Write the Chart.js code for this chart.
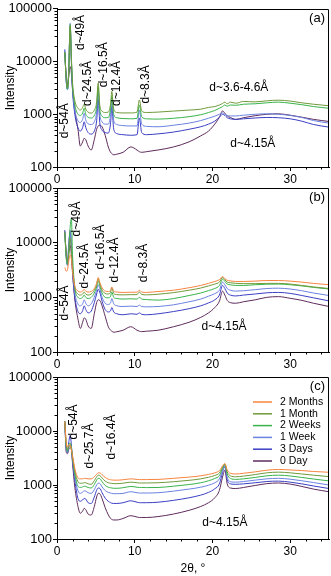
<!DOCTYPE html>
<html><head><meta charset="utf-8">
<script src="https://cdn.jsdelivr.net/npm/chart.js@4.4.0/dist/chart.umd.min.js"></script>
<style>
html,body{margin:0;padding:0;background:#fff;width:331px;height:576px;overflow:hidden;}
canvas{position:absolute;left:0;display:block;}
</style></head><body>
<canvas id="ca" width="331" height="195" style="top:0px"></canvas>
<canvas id="cb" width="331" height="195" style="top:178px"></canvas>
<canvas id="cc" width="331" height="210" style="top:366px"></canvas>
<script>
// ---- data ----
const X = [1.0, 1.2, 1.35, 1.5, 1.7, 1.85, 2.0, 2.3, 2.7, 3.0, 3.3, 3.5, 3.7, 4.0, 4.4, 4.8, 5.1, 5.3, 5.5, 5.8, 6.2, 6.6, 6.9, 7.05, 7.3, 7.7, 8.5, 9.5, 10.3, 10.6, 10.9, 11.5, 13, 15, 17, 18.5, 19.5, 20.3, 20.9, 21.3, 21.6, 21.9, 22.3, 23, 24, 25.5, 27, 28.5, 30, 31.5, 33, 35];
const X_TICK_LABELS = [0, 10, 20, 30];
const Y_TICK_LABELS = [100, 1000, 10000, 100000];
const SERIES_NAMES = ['2 Months', '1 Month', '2 Weeks', '1 Week', '3 Days', '0 Day'];

// panel (a)
const A_1M  = [15000,4500,3200,6000,48000,12000,4000,1800,1300,1200,1350,1550,1250,1100,1050,1200,1700,3900,1500,1150,1080,1100,1600,2700,1250,1080,1060,1060,1100,1870,1150,1080,1100,1150,1200,1250,1350,1400,1500,1600,1700,1580,1700,1620,1750,1720,1800,1850,1780,1650,1550,1450];
const A_2W  = [15000,4200,3000,5500,50000,11000,3500,1500,1000,950,1050,1300,1000,880,850,950,1400,3300,1250,920,860,870,1300,2200,980,860,830,820,840,1500,900,820,810,840,900,980,1080,1180,1300,1400,1500,1420,1500,1480,1550,1580,1650,1700,1620,1520,1400,1300];
const A_1WK = [16000,4000,2900,6000,53000,11000,3200,1200,750,700,800,1050,780,660,640,720,1100,2600,1000,720,650,650,1000,1850,760,640,610,600,600,1200,650,590,580,620,680,760,840,920,1000,1060,1000,940,930,930,960,1000,1020,1000,950,870,760,680];
const A_3D  = [17000,4000,3000,6500,45000,10000,2800,1000,550,480,560,720,560,450,420,480,750,1900,700,500,450,440,700,1400,520,430,410,400,410,850,450,410,425,460,520,580,650,740,880,1000,950,860,820,800,820,850,870,860,820,740,640,570];
const A_0D  = [15000,5000,3500,5000,8000,6000,3000,1150,520,250,300,350,330,250,210,330,520,600,620,580,400,240,190,180,170,175,190,240,210,195,190,195,210,240,300,390,480,650,880,1160,1050,930,870,800,860,940,1000,1020,960,880,800,730];

// panel (b)
const B_2M  = [3500,3000,3200,4500,6000,5000,3000,1600,1300,1250,1300,1400,1300,1250,1280,1450,1800,2300,1900,1500,1300,1280,1350,1550,1300,1250,1230,1240,1240,1350,1250,1230,1280,1350,1500,1650,1800,1950,2100,2400,2200,2050,2000,1950,1950,1980,2030,2030,1980,1900,1800,1700];
const B_1M  = [16000,6000,4500,6000,12000,7000,3500,1500,1150,1100,1150,1250,1150,1100,1150,1350,1700,2200,1800,1350,1180,1150,1250,1500,1180,1120,1110,1120,1120,1250,1130,1110,1140,1220,1350,1480,1620,1750,1900,2300,2100,1900,1850,1800,1780,1780,1800,1800,1750,1650,1550,1450];
const B_2W  = [15000,5000,4000,7000,20000,28000,6000,1500,1000,950,1000,1100,1000,950,1000,1200,1550,2000,1650,1200,1000,980,1050,1250,1000,950,930,940,930,1000,930,910,890,950,1080,1200,1330,1450,1650,2150,1950,1750,1700,1650,1650,1700,1740,1750,1700,1620,1520,1420];
const B_1WK = [16000,5000,3800,8000,17000,9000,3500,1200,750,700,760,900,780,700,760,1000,1350,1700,1450,1000,780,740,800,950,760,700,680,690,680,720,680,670,680,730,830,930,1050,1170,1350,1900,1700,1450,1350,1300,1320,1380,1450,1470,1420,1320,1200,1080];
const B_3D  = [17000,5500,4000,9000,16000,8000,3000,1000,550,500,570,700,600,520,560,800,1150,1400,1250,850,600,540,570,650,540,500,480,500,490,520,490,480,500,550,620,700,790,900,1100,1650,1450,1200,1100,1060,1100,1150,1210,1230,1180,1080,980,860];
const B_0D  = [16000,6000,4000,6000,9000,6000,2800,900,400,270,350,420,400,300,270,500,800,900,880,700,450,290,250,240,230,235,250,290,250,240,236,240,250,290,350,430,520,650,850,1300,1100,880,800,780,830,900,1000,1030,960,880,780,680];

// panel (c)
const C_2M  = [15000,6000,5000,5500,5500,4500,3500,2000,1350,1300,1300,1330,1320,1300,1300,1420,1580,1680,1680,1550,1380,1280,1250,1240,1230,1230,1250,1300,1270,1260,1260,1260,1270,1330,1400,1480,1570,1680,1850,2250,2500,1900,1650,1600,1650,1750,1880,1940,1900,1850,1780,1720];
const C_1M  = [15000,5500,4500,5000,5500,4500,3300,1800,1150,1080,1080,1100,1100,1050,1030,1200,1420,1520,1500,1350,1180,1100,1080,1070,1060,1060,1080,1130,1100,1090,1090,1090,1100,1150,1220,1300,1390,1500,1680,2150,2450,1750,1480,1420,1460,1560,1680,1730,1680,1600,1520,1430];
const C_2W  = [15000,5000,4200,5500,6000,5000,3200,1600,950,900,920,950,940,900,880,1020,1230,1330,1320,1150,980,910,890,880,870,870,890,940,910,900,900,895,900,950,1020,1100,1200,1320,1500,2050,2400,1600,1330,1270,1300,1380,1480,1520,1470,1380,1290,1190];
const C_1WK = [15000,4500,4000,5000,5500,4800,3000,1400,780,700,740,780,770,720,700,820,1000,1080,1070,920,790,730,710,700,690,690,700,750,720,710,710,710,720,770,840,910,990,1100,1300,1900,2300,1400,1150,1130,1160,1230,1300,1330,1280,1200,1110,1000];
const C_3D  = [15000,4500,4000,6000,8300,5500,2800,1200,560,500,530,565,550,470,455,600,800,880,870,720,570,500,470,460,455,455,470,510,480,470,470,470,480,520,580,650,730,850,1050,1700,2200,1250,1050,1030,1050,1100,1160,1180,1130,1050,960,860];
const C_0D  = [15000,4000,3800,4500,5000,4500,2500,900,400,300,330,370,350,290,278,400,600,700,690,560,380,280,240,230,225,225,240,270,255,250,250,250,260,290,340,400,470,580,800,1400,1880,1050,880,860,900,980,1060,1090,1040,940,840,750];

// annotation texts (anchored in data coordinates)
const A_NOTES = [
  {t:'d~54Å', x:1.03, y:750, rot:true},
  {t:'d~49Å', x:3.09, y:35700, rot:true},
  {t:'d~24.5Å', x:3.99, y:3840, rot:true},
  {t:'d~16.5Å', x:6.05, y:8670, rot:true},
  {t:'d~12.4Å', x:7.72, y:3840, rot:true},
  {t:'d~8.3Å', x:11.45, y:3680, rot:true},
  {t:'d~3.6-4.6Å', x:23.4, y:3230, rot:false},
  {t:'d~4.15Å', x:25.2, y:280, rot:false}
];
const B_NOTES = [
  {t:'d~54Å', x:1.03, y:787, rot:true},
  {t:'d~49Å', x:2.57, y:27100, rot:true},
  {t:'d~24.5Å', x:3.6, y:3740, rot:true},
  {t:'d~16.5Å', x:5.66, y:8340, rot:true},
  {t:'d~12.4Å', x:7.46, y:4820, rot:true},
  {t:'d~8.3Å', x:11.2, y:4250, rot:true},
  {t:'d~4.15Å', x:21.5, y:286, rot:false}
];
const C_NOTES = [
  {t:'d~54Å', x:2.19, y:14700, rot:true},
  {t:'d~25.7Å', x:4.25, y:5270, rot:true},
  {t:'d~16.4Å', x:7.08, y:7740, rot:true},
  {t:'d~4.15Å', x:21.6, y:198, rot:false}
];

// ---- styles ----
const COLORS = {
  '2 Months': '#f7843f',
  '1 Month': '#6f9a3a',
  '2 Weeks': '#39b34a',
  '1 Week': '#6b82e0',
  '3 Days': '#3b3fc4',
  '0 Day': '#5e2b5c'
};
const FONT = '"Liberation Sans", Arial, Helvetica, sans-serif';
Chart.defaults.font.family = FONT;
Chart.defaults.color = '#000';

const isPow10 = v => Y_TICK_LABELS.includes(v);

const framePlugin = {
  id: 'frame',
  afterDatasetsDraw(chart) {
    const {ctx, chartArea: a} = chart;
    ctx.save();
    ctx.strokeStyle = '#000'; ctx.lineWidth = 1;
    const t = Math.round(a.top) + 0.5, r = Math.round(a.right) - 0.5;
    ctx.beginPath();
    ctx.moveTo(a.left, t); ctx.lineTo(r, t); ctx.lineTo(r, a.bottom);
    ctx.stroke();
    ctx.restore();
  }
};

const minorTickPlugin = {
  id: 'minorTicks',
  afterDraw(chart) {
    const {ctx} = chart;
    const xs = chart.scales.x, ys = chart.scales.y;
    ctx.save();
    ctx.strokeStyle = '#000'; ctx.lineWidth = 1;
    ctx.beginPath();
    for (const t of ys.ticks) {
      if (isPow10(t.value)) continue;
      const e = Math.pow(10, Math.floor(Math.log10(t.value) + 1e-9));
      const m = t.value / e;
      if (Math.abs(m - Math.round(m)) > 1e-6) continue;
      const py = Math.round(ys.getPixelForValue(t.value)) + 0.5;
      ctx.moveTo(ys.right - 2.5, py); ctx.lineTo(ys.right, py);
    }
    for (const t of xs.ticks) {
      if (X_TICK_LABELS.includes(t.value)) continue;
      const px = Math.round(xs.getPixelForValue(t.value)) + 0.5;
      ctx.moveTo(px, xs.top); ctx.lineTo(px, xs.top + 2.5);
    }
    ctx.stroke();
    ctx.restore();
  }
};

const notesPlugin = {
  id: 'notes',
  afterDraw(chart, args, opts) {
    const {ctx} = chart;
    const xs = chart.scales.x, ys = chart.scales.y;
    ctx.save();
    ctx.fillStyle = '#000';
    ctx.font = '12px ' + FONT;
    ctx.textAlign = 'center'; ctx.textBaseline = 'middle';
    for (const n of (opts.items || [])) {
      const px = xs.getPixelForValue(n.x), py = ys.getPixelForValue(n.y);
      ctx.save();
      ctx.translate(px, py);
      if (n.rot) ctx.rotate(-Math.PI / 2);
      ctx.fillText(n.t, 0, 0);
      ctx.restore();
    }
    // panel tag
    const a = chart.chartArea;
    ctx.font = '13px ' + FONT;
    ctx.textAlign = 'right';
    ctx.fillText(opts.tag, a.right - 4, a.top + 9.5);
    ctx.restore();
  }
};

const legendPlugin = {
  id: 'boxLegend',
  afterDraw(chart, args, opts) {
    if (!opts.show) return;
    const {ctx, chartArea: a} = chart;
    ctx.save();
    ctx.font = '10.5px ' + FONT;
    ctx.textAlign = 'left'; ctx.textBaseline = 'middle';
    chart.data.datasets.forEach((ds, i) => {
      const yy = a.top + 25 + i * 11.8;
      ctx.strokeStyle = ds.borderColor; ctx.lineWidth = 1.5;
      ctx.beginPath(); ctx.moveTo(a.right - 76, yy); ctx.lineTo(a.right - 57, yy); ctx.stroke();
      ctx.fillStyle = '#000';
      ctx.fillText(ds.label, a.right - 49, yy);
    });
    ctx.restore();
  }
};

function makePanel(id, names, arrays, cfg) {
  const datasets = names.map((name, k) => ({
    label: name,
    data: X.map((x, i) => ({x: x, y: arrays[k][i]})),
    borderColor: COLORS[name],
    backgroundColor: COLORS[name],
    borderWidth: 1,
    pointRadius: 0,
    cubicInterpolationMode: 'monotone',
    fill: false
  }));
  return new Chart(document.getElementById(id), {
    type: 'line',
    data: {datasets},
    plugins: [framePlugin, minorTickPlugin, notesPlugin, legendPlugin],
    options: {
      responsive: false, animation: false, devicePixelRatio: 1,
      layout: {padding: {top: cfg.padTop, right: 2, left: 0, bottom: 0}},
      plugins: {
        legend: {display: false}, tooltip: {enabled: false},
        notes: {items: cfg.notes, tag: cfg.tag},
        boxLegend: {show: !!cfg.legend}
      },
      scales: {
        x: {
          type: 'linear', min: 0, max: 35,
          afterFit(s) { s.height = cfg.xHeight; },
          border: {display: true, color: '#000', width: 1},
          grid: {display: true, drawOnChartArea: false, drawTicks: true, tickLength: 4,
                 tickColor: c => (c.tick && X_TICK_LABELS.includes(c.tick.value)) ? '#000' : 'rgba(0,0,0,0)'},
          ticks: {stepSize: 2, includeBounds: false, autoSkip: false, maxRotation: 0, padding: 1,
                  font: {size: 12}, color: '#000',
                  callback: v => X_TICK_LABELS.includes(v) ? String(v) : ''},
          title: {display: !!cfg.xTitle, text: '2θ, °', font: {size: 12}, color: '#000', padding: {top: 0, bottom: 0}}
        },
        y: {
          type: 'logarithmic', min: 100, max: 100000,
          afterFit(s) { s.width = 57; },
          border: {display: true, color: '#000', width: 1},
          grid: {display: true, drawOnChartArea: false, drawTicks: true, tickLength: 4,
                 tickColor: c => (c.tick && isPow10(c.tick.value)) ? '#000' : 'rgba(0,0,0,0)'},
          ticks: {autoSkip: false, padding: 1, font: {size: 13}, color: '#000',
                  callback: v => isPow10(v) ? String(v) : ''},
          title: {display: true, text: 'Intensity', font: {size: 12}, color: '#000', padding: {top: 3, bottom: 0}}
        }
      }
    }
  });
}

makePanel('ca', ['1 Month', '2 Weeks', '1 Week', '3 Days', '0 Day'],
  [A_1M, A_2W, A_1WK, A_3D, A_0D],
  {padTop: 6, xHeight: 28, notes: A_NOTES, tag: '(a)'});
makePanel('cb', SERIES_NAMES, [B_2M, B_1M, B_2W, B_1WK, B_3D, B_0D],
  {padTop: 10, xHeight: 21, notes: B_NOTES, tag: '(b)'});
makePanel('cc', SERIES_NAMES, [C_2M, C_1M, C_2W, C_1WK, C_3D, C_0D],
  {padTop: 11, xHeight: 37, notes: C_NOTES, tag: '(c)', legend: true, xTitle: true});
</script>
</body></html>
